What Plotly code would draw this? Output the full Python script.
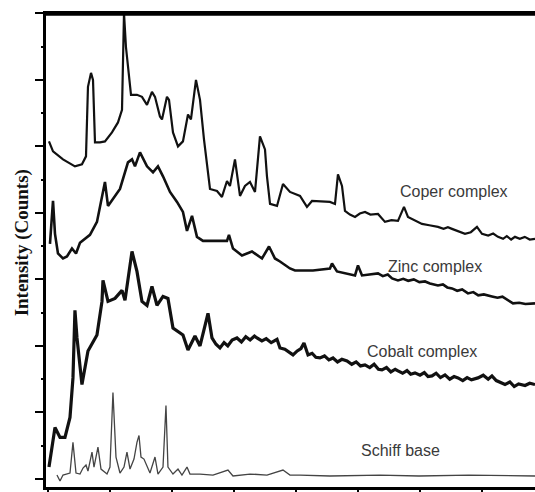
import plotly.graph_objects as go

# 2-theta (deg) and intensity (counts)
cu_x = [10.16, 10.81, 12.42, 14.35, 15.48, 16.13, 16.45, 16.94, 17.26, 17.58, 18.39, 19.19, 20.32, 21.29, 21.94,
        22.26, 22.58, 22.90, 23.39, 24.35, 25.16, 25.97, 26.77, 27.26, 28.06, 28.39, 29.19, 29.52, 30.16, 30.97,
        31.77, 32.58, 33.06, 33.87, 34.52, 35.16, 36.13, 37.26, 38.06, 38.87, 39.35, 40.16, 40.97, 41.77, 42.58,
        43.39, 44.19, 45.0, 45.32, 45.81, 46.94, 47.90, 49.03, 50.65, 51.77, 52.58, 55.48, 56.29, 56.77, 57.42,
        57.9, 58.7, 59.52, 60.3, 61.13, 62.0, 63.23, 64.35, 65.4, 66.45, 67.42, 68.06, 69.0, 70.32, 71.5,
        72.9, 73.8, 74.5, 75.16, 76.3, 77.26, 78.2, 79.19, 80.0, 81.0, 81.8, 82.58, 83.4, 84.0, 84.7,
        85.32, 86.1, 86.9, 87.7, 88.55]
cu_y = [1015, 985, 961, 940, 946, 970, 1179, 1221, 1200, 1012, 1012, 1015, 1042, 1072, 1110,
        1400, 1298, 1239, 1155, 1155, 1149, 1125, 1164, 1149, 1090, 1081, 1149, 1140, 1042, 1000,
        1015, 1096, 1081, 1200, 1140, 1021, 872, 866, 848, 896, 881, 961, 851, 881, 893,
        863, 1030, 991, 910, 827, 821, 887, 863, 851, 818, 836, 833, 827, 916, 881,
        806, 795, 788, 798, 803, 795, 797, 773, 778, 776, 818, 788, 780, 767, 763,
        758, 752, 757, 752, 745, 737, 742, 758, 737, 732, 738, 728, 722, 730, 720,
        728, 722, 728, 720, 722]

zn_x = [10.32, 10.81, 11.13, 11.61, 12.42, 13.06, 13.87, 14.52, 15.16, 15.97, 16.77, 17.9, 18.71, 19.19, 19.68,
        20.48, 21.61, 22.9, 23.55, 24.03, 24.84, 25.97, 26.94, 27.74, 28.55, 29.68, 30.81, 31.77, 32.42, 33.23,
        34.03, 35.0, 37.26, 38.87, 39.19, 39.84, 41.29, 42.9, 44.52, 45.65, 46.61, 47.42, 49.03, 49.84, 52.74,
        55.48, 55.81, 56.61, 59.52, 60.0, 60.65, 63.23, 64.0, 64.8, 65.5, 66.45, 67.3, 68.1, 69.0, 69.9,
        70.81, 71.6, 72.9, 73.7, 74.4, 75.16, 76.0, 76.8, 77.74, 78.6, 79.4, 80.3, 81.61, 82.5, 83.3,
        83.71, 84.3, 85.0, 86.0, 87.0, 88.55]
zn_y = [707, 836, 737, 678, 663, 669, 693, 678, 710, 722, 734, 773, 851, 893, 821,
        842, 872, 952, 961, 940, 982, 940, 922, 940, 910, 863, 833, 803, 746, 791,
        728, 716, 716, 716, 734, 693, 672, 684, 663, 699, 663, 654, 633, 627, 627,
        633, 648, 624, 612, 642, 612, 618, 610, 615, 603, 597, 602, 596, 600, 592,
        594, 588, 582, 585, 576, 573, 566, 570, 558, 562, 552, 555, 549, 545, 548,
        543, 535, 528, 530, 526, 528]

co_x = [10.16, 11.13, 11.94, 12.74, 13.55, 14.03, 14.35, 14.68, 15.48, 16.45, 17.9, 18.71, 18.87, 19.68, 20.81,
        21.94, 22.42, 23.55, 24.35, 25.16, 25.97, 26.77, 27.58, 28.55, 29.35, 30.16, 31.77, 32.58, 33.71, 34.52,
        35.81, 36.45, 37.1, 37.74, 38.4, 39.0, 39.7, 40.48, 41.2, 41.9, 42.6, 43.3, 43.71, 44.5, 45.2,
        46.0, 46.94, 47.42, 48.2, 48.9, 49.52, 50.2, 50.8, 51.29, 51.94, 52.6, 53.2, 53.87, 54.6, 55.3,
        55.97, 56.7, 57.4, 58.23, 59.0, 59.7, 60.4, 61.13, 61.9, 62.6, 63.3, 63.87, 64.6, 65.3, 66.0,
        66.45, 67.2, 67.9, 68.5, 69.19, 70.0, 70.7, 71.3, 71.94, 72.6, 73.3, 74.03, 74.8, 75.5, 76.13,
        76.9, 77.6, 78.3, 79.35, 80.2, 81.0, 81.61, 82.3, 83.0, 83.71, 84.5, 85.2, 85.9, 86.94, 87.7,
        88.55]
co_y = [36, 155, 125, 125, 185, 304, 507, 424, 284, 385, 433, 534, 597, 534, 543,
        567, 537, 684, 624, 534, 522, 579, 522, 549, 543, 454, 433, 388, 430, 400,
        498, 424, 405, 394, 410, 400, 418, 424, 412, 428, 418, 430, 424, 415, 422,
        410, 420, 394, 390, 380, 373, 385, 392, 409, 373, 378, 366, 364, 370, 358,
        364, 352, 360, 355, 345, 352, 340, 343, 335, 345, 330, 328, 335, 322, 330,
        325, 318, 326, 315, 319, 312, 320, 308, 310, 318, 305, 313, 300, 308, 304,
        296, 305, 298, 304, 312, 300, 310, 296, 290, 284, 292, 278, 286, 281, 288,
        284]

sb_x = [11.45, 11.94, 12.42, 13.55, 14.03, 14.52, 15.16, 15.65, 16.13, 16.45, 17.1, 17.42, 18.06, 18.55, 19.52,
        20.0, 20.48, 20.97, 21.61, 22.26, 22.74, 23.23, 23.87, 24.35, 24.68, 25.0, 25.48, 25.97, 26.45, 27.26,
        27.74, 28.55, 29.03, 29.35, 30.16, 30.97, 31.61, 32.42, 32.9, 34.52, 36.61, 39.03, 39.84, 42.58, 45.32,
        47.9, 49.03, 50.65, 55.48, 63.55, 69.84, 77.9, 88.55]
sb_y = [12, -6, 12, 18, 110, 18, 15, 33, 42, 24, 81, 36, 96, 30, 15,
        36, 260, 66, 18, 36, 81, 30, 60, 110, 131, 66, 60, 36, 18, 66,
        15, 36, 221, 36, 15, 30, 12, 36, 15, 15, 12, 27, 9, 15, 12,
        27, 12, 12, 9, 12, 9, 12, 9]

labels = ["Coper complex", "Zinc complex", "Cobalt complex", "Schiff base"]
label_x = [75.5, 72.4, 70.3, 66.9]
label_y = [863, 639, 382, 87]

x_range = [9.68, 88.55]
y_range = [-24, 1407]
frame_top = 1400  # top frame of the original figure sits at the last y tick

fig = go.Figure()
fig.add_trace(go.Scatter(x=cu_x, y=cu_y, mode="lines", line=dict(color="#111111", width=2.2), showlegend=False))
fig.add_trace(go.Scatter(x=zn_x, y=zn_y, mode="lines", line=dict(color="#111111", width=2.6), showlegend=False))
fig.add_trace(go.Scatter(x=co_x, y=co_y, mode="lines", line=dict(color="#111111", width=3.2), showlegend=False))
fig.add_trace(go.Scatter(x=sb_x, y=sb_y, mode="lines", line=dict(color="#444444", width=1.3), showlegend=False))
# thick top frame line, drawn along the top of the value range
fig.add_trace(go.Scatter(x=x_range, y=[frame_top, frame_top], mode="lines",
                         line=dict(color="black", width=5), hoverinfo="skip", showlegend=False))
# invisible carrier for the minor-tick axis
fig.add_trace(go.Scatter(x=[50], y=[500], yaxis="y2", mode="markers", marker=dict(opacity=0),
                         hoverinfo="skip", showlegend=False))

for t, lx, ly in zip(labels, label_x, label_y):
    fig.add_annotation(x=lx, y=ly, text=t, showarrow=False, xanchor="center", yanchor="middle",
                       font=dict(family="Liberation Sans, Arial", size=16, color="#3a3a3a"))

fig.add_annotation(xref="paper", yref="paper", x=-0.05, y=0.513, text="<b>Intensity (Counts)</b>",
                   textangle=-90, showarrow=False, xanchor="center", yanchor="middle",
                   font=dict(family="Liberation Serif, Times New Roman, serif", size=19, color="#111111"))

fig.update_layout(
    width=535, height=492, margin=dict(l=46, r=0, t=11, b=2),
    paper_bgcolor="white", plot_bgcolor="white",
    xaxis=dict(range=x_range, showgrid=False, zeroline=False, showline=True, linecolor="black",
               linewidth=3, ticks="outside", ticklen=5, tickwidth=2, tickcolor="black",
               dtick=10, tick0=10, showticklabels=False),
    yaxis=dict(range=y_range, showgrid=False, zeroline=False, showline=True, linecolor="black",
               linewidth=3, ticks="outside", ticklen=8, tickwidth=2, tickcolor="black", dtick=200, tick0=0,
               showticklabels=False),
    yaxis2=dict(range=y_range, overlaying="y", side="left", showgrid=False, zeroline=False, showline=False,
                ticks="outside", ticklen=4, tickwidth=2, tickcolor="black", dtick=100, tick0=0,
                showticklabels=False),
)

fig.write_html("out.html")
